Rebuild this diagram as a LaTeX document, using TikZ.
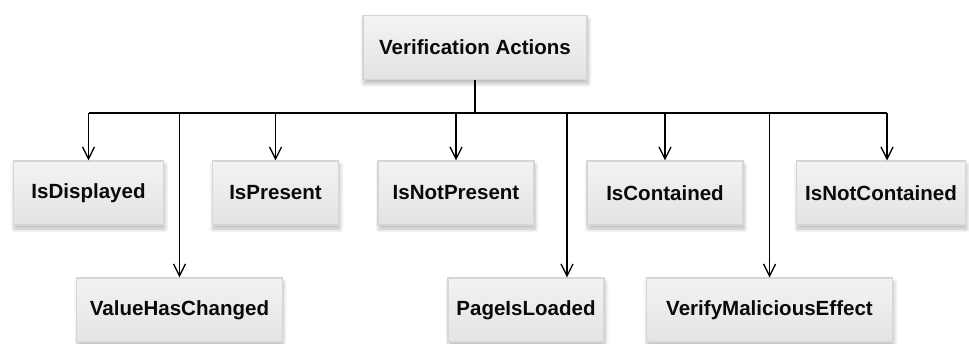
\documentclass[tikz,border=0pt]{standalone}
\usepackage{fontspec}
\setmainfont{Liberation Sans}
\usetikzlibrary{arrows.meta}
\usetikzlibrary{shadows.blur}
\definecolor{va-top}{HTML}{F3F3F3}
\definecolor{va-bot}{HTML}{E3E3E3}
\definecolor{va-edge}{HTML}{D6D6D6}
\definecolor{va-text}{HTML}{0A0A0A}

\begin{document}
\begin{tikzpicture}[x=0.75pt, y=-0.75pt,
    action/.style={rectangle, draw=va-edge, line width=0.8pt, top color=va-top, bottom color=va-bot,
        minimum height=48pt, inner sep=0pt, text=va-text,
        font=\fontsize{15.4}{18}\selectfont\bfseries,
        blur shadow={shadow xshift=0.8pt, shadow yshift=-3pt, shadow blur steps=8, shadow blur radius=3pt, shadow opacity=28}},
    arr/.style={line width=1pt, -{Straight Barb[length=9pt, width=9pt]}}]
    \useasboundingbox (0,0) rectangle (969,343);

    % Root
    \node[action, minimum width=168pt] (root) at (475,47.5) {Verification Actions};

    % First row
    \node[action, minimum width=113pt] (disp) at (88.5,193) {IsDisplayed};
    \node[action, minimum width=95pt] (pres) at (275.5,193) {IsPresent};
    \node[action, minimum width=117pt] (notpres) at (456,193) {IsNotPresent};
    \node[action, minimum width=117pt] (cont) at (665,193) {IsContained};
    \node[action, minimum width=127pt] (notcont) at (881,193) {IsNotContained};

    % Second row
    \node[action, minimum width=154pt] (value) at (179.5,310) {ValueHasChanged};
    \node[action, minimum width=117pt] (page) at (526,310) {PageIsLoaded};
    \node[action, minimum width=185pt] (verify) at (769.5,310) {VerifyMaliciousEffect};

    % Bus
    \coordinate (bus) at (475,113);
    \coordinate (pagedrop) at (567,113);
    \coordinate (ncdrop) at (887,113);
    \draw[line width=1pt] (root.south) -- (root.south |- bus);
    \draw[line width=1pt] (disp.north |- bus) -- (ncdrop);

    % Drops
    \foreach \n in {disp,pres,notpres,cont,value,verify} {
        \draw[arr] (\n.north |- bus) -- (\n.north);
    }
    \draw[arr] (pagedrop) -- (pagedrop |- page.north);
    \draw[arr] (ncdrop) -- (ncdrop |- notcont.north);
\end{tikzpicture}
\end{document}
